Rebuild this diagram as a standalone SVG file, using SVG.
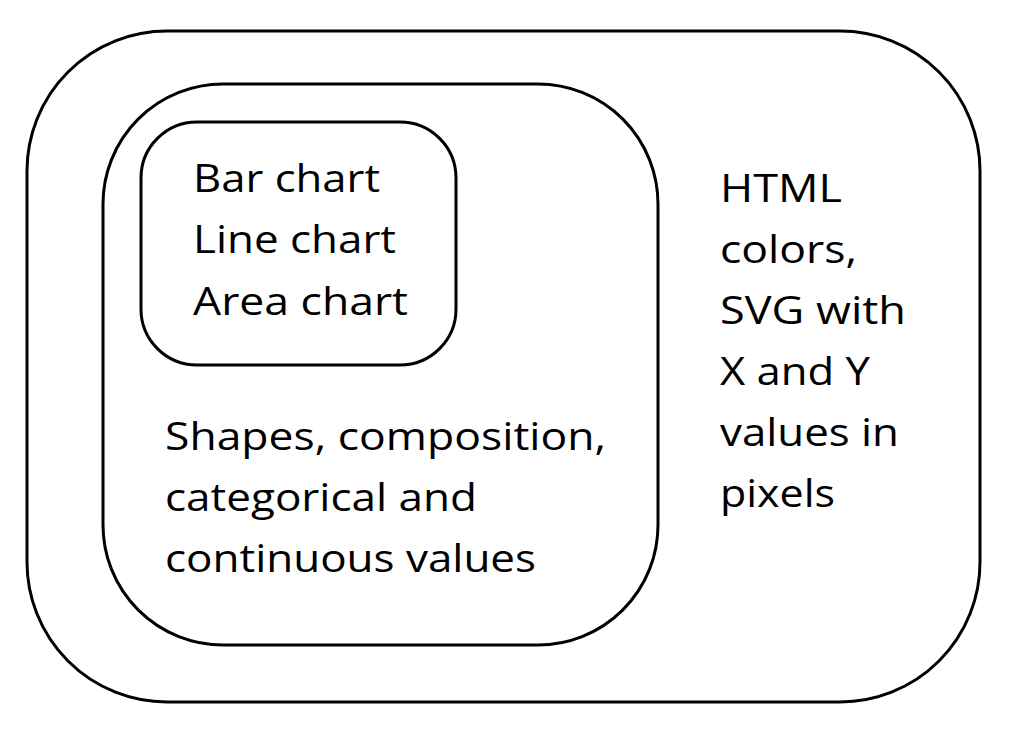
<svg xmlns="http://www.w3.org/2000/svg" width="1031" height="746" viewBox="0 0 1031 746">
<style>
.box{fill:none;stroke:#000;stroke-width:3}
.t{font-family:"Open Sans",Lato,"Liberation Sans",sans-serif;font-size:38px;fill:#000}
</style>
<rect width="1031" height="746" fill="#fff"/>
<g id="outer">
<rect class="box" x="27" y="31" width="953" height="671" rx="140" ry="140"/>
<text class="t" x="720" y="202" textLength="122" lengthAdjust="spacingAndGlyphs">HTML</text>
<text class="t" x="720" y="263" textLength="137" lengthAdjust="spacingAndGlyphs">colors,</text>
<text class="t" x="720" y="324" textLength="186" lengthAdjust="spacingAndGlyphs">SVG with</text>
<text class="t" x="720" y="385" textLength="150" lengthAdjust="spacingAndGlyphs">X and Y</text>
<text class="t" x="720" y="446" textLength="179" lengthAdjust="spacingAndGlyphs">values in</text>
<text class="t" x="720" y="507" textLength="115" lengthAdjust="spacingAndGlyphs">pixels</text>
</g>
<g id="middle">
<rect class="box" x="103" y="84" width="555" height="561" rx="120" ry="120"/>
<text class="t" x="165" y="450" textLength="441" lengthAdjust="spacingAndGlyphs">Shapes, composition,</text>
<text class="t" x="165" y="511" textLength="312" lengthAdjust="spacingAndGlyphs">categorical and</text>
<text class="t" x="165" y="572" textLength="371" lengthAdjust="spacingAndGlyphs">continuous values</text>
</g>
<g id="inner">
<rect class="box" x="141" y="122" width="315" height="243" rx="56" ry="56"/>
<text class="t" x="193" y="192" textLength="187" lengthAdjust="spacingAndGlyphs">Bar chart</text>
<text class="t" x="193" y="253" textLength="203" lengthAdjust="spacingAndGlyphs">Line chart</text>
<text class="t" x="193" y="315" textLength="215" lengthAdjust="spacingAndGlyphs">Area chart</text>
</g>
<g id="connectors"/>
</svg>
